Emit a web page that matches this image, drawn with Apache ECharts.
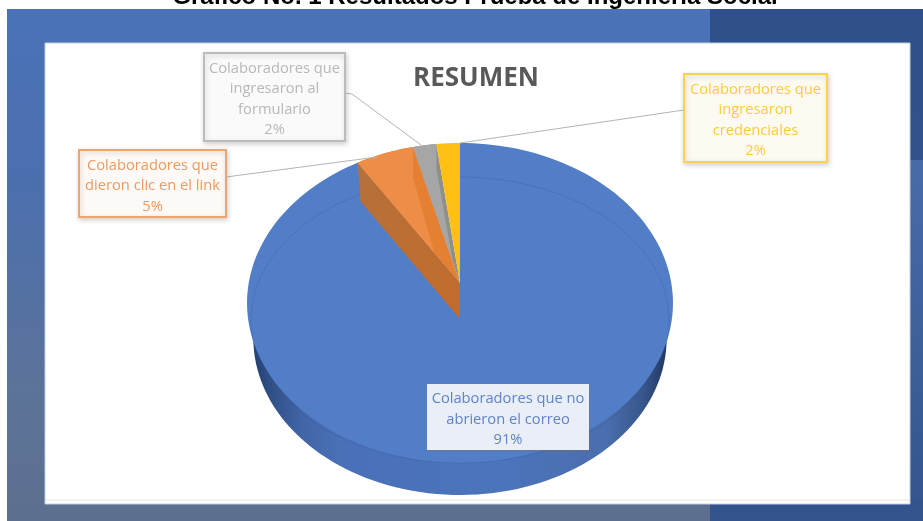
<!DOCTYPE html>
<html>
<head>
<meta charset="utf-8">
<style>html,body{margin:0;padding:0;background:#fff}#c{width:923px;height:521px}</style>
<script src="https://cdn.jsdelivr.net/npm/echarts@6/dist/echarts.min.js"></script>
</head>
<body>
<div id="c"></div>
<script>
const headline = 'Gráfico No. 1 Resultados Prueba de Ingeniería Social';
const chartTitle = 'RESUMEN';
const categories = [
  'Colaboradores que no\nabrieron el correo',
  'Colaboradores que\ndieron clic en el link',
  'Colaboradores que\ningresaron al\nformulario',
  'Colaboradores que\ningresaron\ncredenciales'
];
const values = [91, 5, 2, 2];
const sliceColors = ['#527dc7', '#e57f32', '#8f908a', '#ffc013'];
const sliceHighlights = [null, '#ee8d47', '#a6a6a6', null];
const labelTextColors = ['#5f84c8', '#ef9a5e', '#b8b8b8', '#ffca3c'];

/* ---------- layout (tilted projection of the pie's circle) ---------- */
const P = {cx: 460, cy: 283, A: 211.3, R: 157.5, k: 0.125};
const B = {cx: 460, cy: 319, A: 205, R: 154, k: 0.125};
const total = values.reduce((a, b) => a + b, 0);
const startOf = i => values.slice(0, i).reduce((a, b) => a + b, 0) / total;
function rimOf(F, f) {
  const t = 2 * Math.PI * f, u = Math.sin(t), v = Math.cos(t), w = 1 + F.k * v;
  return [F.cx + F.A * u / w, F.cy - F.R * v / w];
}
const lerp = (a, b, s) => [a[0] + (b[0] - a[0]) * s, a[1] + (b[1] - a[1]) * s];
const down = (p, d) => [p[0], p[1] + d];
function arc(F, f0, f1) {
  const pts = [], n = Math.max(4, Math.ceil((f1 - f0) * 180));
  for (let j = 0; j <= n; j++) pts.push(rimOf(F, f0 + (f1 - f0) * j / n));
  return pts;
}
const poly = (points, fill, extra) => ({type: 'polygon', shape: {points}, style: Object.assign({fill}, extra || {})});
const wallGrad = {type: 'linear', x: 252, y: 0, x2: 668, y2: 0, global: true, colorStops: [
  {offset: 0, color: '#243f70'}, {offset: 0.04, color: '#2f4e84'}, {offset: 0.12, color: '#4265a6'}, {offset: 0.22, color: '#4a71b8'},
  {offset: 0.6, color: '#4c74bb'}, {offset: 0.85, color: '#4a6eae'}, {offset: 0.94, color: '#38568c'}, {offset: 1, color: '#1f3560'}
]};
const cutGrad = {type: 'linear', x: 358, y: 170, x2: 460, y2: 310, global: true, colorStops: [
  {offset: 0, color: '#b5703a'}, {offset: 1, color: '#c26c2c'}
]};

function renderSlice(params, api) {
  const i = params.dataIndex;
  const f0 = startOf(i), f1 = f0 + api.value(0) / total;
  const apex = [P.cx, P.cy], apexLow = [B.cx, B.cy];
  const outline = arc(P, f0, f1);
  const a = rimOf(P, f0), b = rimOf(P, f1);
  const children = [];
  if (i === 0) {
    children.push(poly(arc(B, f0, f1).concat([apexLow]), wallGrad));
  }
  if (i === 1) {
    children.push(poly([a, rimOf(B, f0), apexLow, apex], cutGrad));
  }
  children.push(poly(outline.concat([apex]), api.visual('color')));
  if (sliceHighlights[i]) {
    children.push(poly(outline.concat([down(b, i === 1 ? 31 : 25), lerp(a, apex, i === 1 ? 0.75 : 0.85)]), sliceHighlights[i]));
  }
  if (i === 0) {
    const faint = [];
    for (let j = 0; j <= 120; j++) {
      const t = 2 * Math.PI * j / 120;
      faint.push([460 + 209 * Math.sin(t), 320 - 143 * Math.cos(t)]);
    }
    children.push({type: 'polyline', shape: {points: faint}, style: {stroke: 'rgba(45,85,150,0.25)', lineWidth: 1, fill: null}});
  }
  return {type: 'group', children};
}

/* label boxes */
const boxes = [
  {x: 427, y: 384, w: 162, h: 66, fill: '#e9eef7', border: null, leader: null},
  {x: 79, y: 150, w: 147, h: 67, fill: '#fdf9f6', border: '#f0a36c', leader: [[226, 177], [377, 157]]},
  {x: 204, y: 53, w: 141, h: 88, fill: '#fafafa', border: '#bcbcbc', leader: [[345, 93], [352, 94], [421, 145]]},
  {x: 684, y: 74, w: 143, h: 88, fill: '#fdfaf2', border: '#ffd24d', leader: [[684, 110], [460, 143]]}
];
function renderLabel(params, api) {
  const i = params.dataIndex, bx = boxes[i];
  const children = [];
  if (bx.leader) children.push({type: 'polyline', shape: {points: bx.leader}, style: {stroke: '#b4b4b4', lineWidth: 1, fill: null}});
  children.push({type: 'rect', shape: {x: bx.x, y: bx.y, width: bx.w, height: bx.h},
    style: {fill: bx.fill, stroke: bx.border, lineWidth: bx.border ? 2 : 0,
      shadowBlur: bx.border ? 5 : 0, shadowColor: 'rgba(120,110,100,0.3)', shadowOffsetX: 1, shadowOffsetY: 2}});
  children.push({type: 'text', style: {
    text: categories[i] + '\n' + api.value(0) + '%',
    x: bx.x + bx.w / 2, y: bx.y + bx.h / 2 + 2.5,
    align: 'center', verticalAlign: 'middle',
    fill: labelTextColors[i], fontFamily: 'Open Sans', fontSize: 14.7, lineHeight: 20.5
  }});
  return {type: 'group', children};
}

const ticks = [];
for (let x = 68; x < 905; x += 101.6) ticks.push({type: 'line', shape: {x1: x, y1: 497, x2: x, y2: 501}, style: {stroke: '#e4e0dc', lineWidth: 1}});

const rows = values.map((v, i) => ({value: [v], name: categories[i], itemStyle: {color: sliceColors[i]}}));
const chart = echarts.init(document.getElementById('c'));
chart.setOption({
  animation: false,
  backgroundColor: '#ffffff',
  tooltip: {show: false},
  graphic: [
    {type: 'text', z: 0, style: {text: headline, x: 475, y: -14.5, align: 'center', verticalAlign: 'top',
      fill: '#000', fontFamily: 'Liberation Sans', fontWeight: 'bold', fontSize: 24}},
    {type: 'rect', z: 1, shape: {x: 7, y: 9, width: 703, height: 512}, style: {fill: {type: 'linear', x: 0, y: 0, x2: 0, y2: 1, colorStops: [
      {offset: 0, color: '#4a72b8'}, {offset: 0.35, color: '#4c6fae'}, {offset: 0.75, color: '#5c7399'}, {offset: 1, color: '#5c6f8e'}]}}},
    {type: 'rect', z: 1, shape: {x: 710, y: 9, width: 213, height: 512}, style: {fill: {type: 'linear', x: 0, y: 0, x2: 0, y2: 1, colorStops: [
      {offset: 0, color: '#2f5088'}, {offset: 1, color: '#33548d'}]}}},
    {type: 'rect', z: 1, shape: {x: 910, y: 160, width: 13, height: 340}, style: {fill: {type: 'linear', x: 0, y: 0, x2: 0, y2: 1, colorStops: [
      {offset: 0, color: '#486ca8'}, {offset: 1, color: '#34558f'}]}}},
    {type: 'rect', z: 2, shape: {x: 45, y: 43, width: 865, height: 461}, style: {fill: '#ffffff', stroke: '#c3cfe2', lineWidth: 1}},
    {type: 'line', z: 3, shape: {x1: 45, y1: 500, x2: 910, y2: 500}, style: {stroke: '#e8e4e0', lineWidth: 1}},
    {type: 'group', z: 3, children: ticks},
    {type: 'text', z: 3, style: {text: chartTitle, x: 476, y: 79, align: 'center', verticalAlign: 'middle',
      fill: '#595959', fontFamily: 'Open Sans', fontWeight: 'bold', fontSize: 26}}
  ],
  series: [
    {type: 'custom', name: 'Resumen', coordinateSystem: 'none', z: 5, renderItem: renderSlice, data: rows, silent: true},
    {type: 'custom', name: 'Etiquetas', coordinateSystem: 'none', z: 6, renderItem: renderLabel, data: rows, silent: true}
  ]
});
</script>
</body>
</html>
